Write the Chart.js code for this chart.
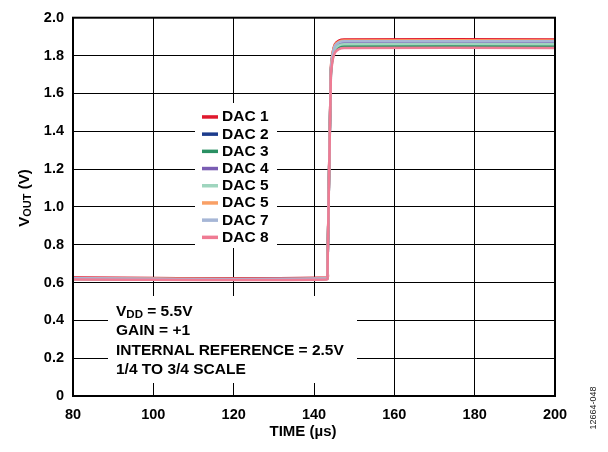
<!DOCTYPE html>
<html>
<head>
<meta charset="utf-8">
<script src="https://cdn.jsdelivr.net/npm/chart.js@4.4.1/dist/chart.umd.min.js"></script>
<style>
  html, body { margin: 0; padding: 0; background: #fff; }
  #wrap { width: 608px; height: 452px; position: relative; }
</style>
</head>
<body>
<div id="wrap"><canvas id="myChart" width="608" height="452"></canvas></div>
<script>
// time axis (µs), shared by all channels
var time = [80, 143.2, 143.35, 144.2, 144.6, 145.2, 146.2, 147.5, 200];

var dac1 = [0.626, 0.626, 0.66, 1.73, 1.81, 1.86, 1.879, 1.885, 1.885];
var dac2 = [0.620, 0.620, 0.65, 1.71, 1.79, 1.84, 1.859, 1.865, 1.865];
var dac3 = [0.619, 0.619, 0.65, 1.70, 1.78, 1.825, 1.845, 1.851, 1.851];
var dac4 = [0.621, 0.621, 0.65, 1.72, 1.80, 1.845, 1.864, 1.870, 1.870];
var dac5a = [0.620, 0.620, 0.65, 1.71, 1.79, 1.835, 1.854, 1.860, 1.860];
var dac5b = [0.623, 0.623, 0.66, 1.73, 1.81, 1.855, 1.874, 1.880, 1.880];
var dac7 = [0.622, 0.622, 0.65, 1.72, 1.80, 1.85, 1.869, 1.875, 1.875];
var dac8 = [0.616, 0.616, 0.64, 1.69, 1.77, 1.815, 1.834, 1.840, 1.840];

var labels = ['DAC 1', 'DAC 2', 'DAC 3', 'DAC 4', 'DAC 5', 'DAC 5', 'DAC 7', 'DAC 8'];
var series = [dac1, dac2, dac3, dac4, dac5a, dac5b, dac7, dac8];
var colors = ['#e0182d', '#1c3c8c', '#2a9063', '#7a5db3', '#9fd5be', '#f9a066', '#a6b6d6', '#ef7b93'];

var xTicks = [80, 100, 120, 140, 160, 180, 200];
var yTicks = [0, 0.2, 0.4, 0.6, 0.8, 1.0, 1.2, 1.4, 1.6, 1.8, 2.0];

var notes = ['V|DD| = 5.5V', 'GAIN = +1', 'INTERNAL REFERENCE = 2.5V', '1/4 TO 3/4 SCALE'];

var FONT = '"Liberation Sans", Arial, Helvetica, sans-serif';

var datasets = series.map(function (vals, i) {
    return {
        label: labels[i],
        data: vals.map(function (v, j) { return { x: time[j], y: v }; }),
        borderColor: colors[i],
        backgroundColor: colors[i],
        borderWidth: 2.5,
        pointRadius: 0,
        tension: 0.3,
        order: i === 7 ? 0 : 8 - i
    };
});

// write "V|DD| = 5.5V" style text with subscripts
function drawSub(ctx, text, x, y, size) {
    var parts = text.split('|');
    parts.forEach(function (p, k) {
        var sub = k % 2 === 1;
        ctx.font = 'bold ' + (sub ? size - 4 : size) + 'px ' + FONT;
        ctx.fillText(p, x, y + (sub ? 3 : 0));
        x += ctx.measureText(p).width;
    });
}
function subWidth(ctx, text, size) {
    var w = 0;
    text.split('|').forEach(function (p, k) {
        ctx.font = 'bold ' + (k % 2 === 1 ? size - 4 : size) + 'px ' + FONT;
        w += ctx.measureText(p).width;
    });
    return w;
}

var decor = {
    id: 'decor',
    beforeDatasetsDraw: function (chart) {
        var ctx = chart.ctx;
        ctx.save();
        // white boxes over the grid
        ctx.fillStyle = '#fff';
        ctx.fillRect(195, 103, 82, 145);
        ctx.fillRect(108, 296, 249, 87);

        // legend
        ctx.textBaseline = 'middle';
        ctx.textAlign = 'left';
        labels.forEach(function (lab, i) {
            var y = 116.7 + i * 17.2;
            ctx.fillStyle = colors[i];
            ctx.fillRect(202, y - 1.5, 16, 3.5);
            ctx.fillStyle = '#000';
            ctx.font = 'bold 15.5px ' + FONT;
            ctx.fillText(lab, 222, y + 0.5);
        });

        // notes
        notes.forEach(function (t, i) {
            ctx.fillStyle = '#000';
            drawSub(ctx, t, 116, 311.5 + i * 19.5, 15.5);
        });
        ctx.restore();
    },
    afterDraw: function (chart) {
        var ctx = chart.ctx;
        var a = chart.chartArea;
        ctx.save();
        ctx.strokeStyle = '#000';
        ctx.lineWidth = 2;
        ctx.strokeRect(a.left, a.top, a.right - a.left, a.bottom - a.top);

        ctx.fillStyle = '#000';
        ctx.textBaseline = 'middle';
        // x title
        ctx.textAlign = 'center';
        ctx.font = 'bold 15px ' + FONT;
        ctx.fillText('TIME (µs)', 303, 432);

        // y title
        ctx.textAlign = 'left';
        ctx.translate(25, 198);
        ctx.rotate(-Math.PI / 2);
        var w = subWidth(ctx, 'V|OUT| (V)', 15);
        drawSub(ctx, 'V|OUT| (V)', -w / 2, 0, 15);
        ctx.restore();

        // figure number
        ctx.save();
        ctx.translate(594, 408);
        ctx.rotate(-Math.PI / 2);
        ctx.fillStyle = '#222';
        ctx.font = '9px ' + FONT;
        ctx.textAlign = 'center';
        ctx.textBaseline = 'middle';
        ctx.fillText('12664-048', 0, 0);
        ctx.restore();
    }
};

var ctx = document.getElementById('myChart').getContext('2d');
var myChart = new Chart(ctx, {
    type: 'line',
    data: { datasets: datasets },
    options: {
        responsive: false,
        animation: false,
        layout: { padding: { left: 0, top: 11, right: 53, bottom: 0 } },
        plugins: { legend: { display: false }, tooltip: { enabled: false } },
        scales: {
            x: {
                type: 'linear',
                min: 80, max: 200,
                afterFit: function (s) { s.height = 56; },
                afterBuildTicks: function (s) { s.ticks = xTicks.map(function (v) { return { value: v }; }); },
                grid: { color: '#000', lineWidth: 1, drawTicks: false },
                border: { display: false },
                ticks: { padding: 10, color: '#000', font: { family: FONT, size: 14.5, weight: 'bold' } }
            },
            y: {
                min: 0, max: 2,
                afterFit: function (s) { s.width = 73; },
                afterBuildTicks: function (s) { s.ticks = yTicks.map(function (v) { return { value: v }; }); },
                grid: { color: '#000', lineWidth: 1, drawTicks: false },
                border: { display: false },
                ticks: {
                    padding: 9, color: '#000',
                    font: { family: FONT, size: 14.5, weight: 'bold' },
                    callback: function (v) { return v === 0 ? '0' : v.toFixed(1); }
                }
            }
        }
    },
    plugins: [decor]
});
</script>
</body>
</html>
